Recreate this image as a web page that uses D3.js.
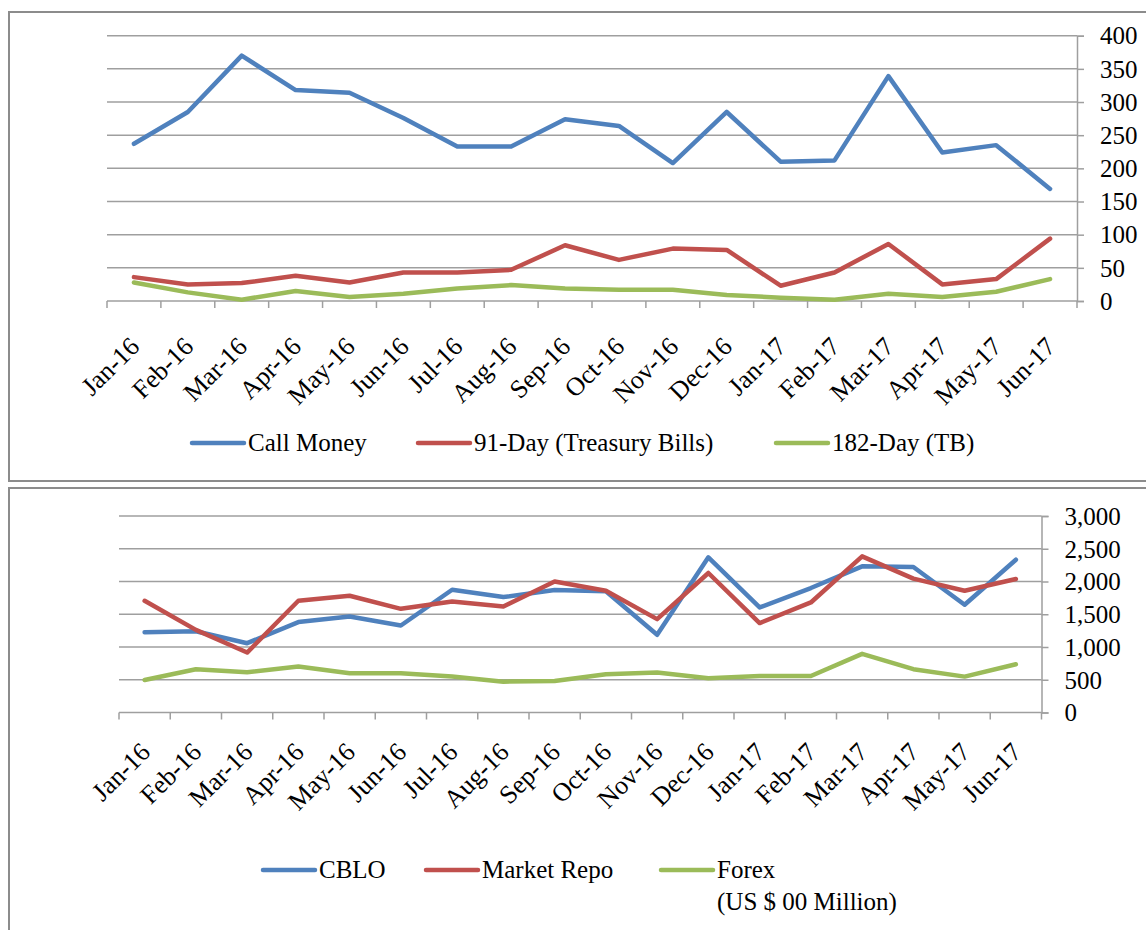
<!DOCTYPE html>
<html>
<head>
<meta charset="utf-8">
<script src="https://cdn.jsdelivr.net/npm/d3@7"></script>
<style>
  body { margin: 0; background: #fff; }
  svg text { font-family: "Liberation Serif", "Times New Roman", serif; fill: #000; }
</style>
</head>
<body>
<div id="vis"></div>
<script>
// months on the category axis
const MONTHS = ['Jan-16', 'Feb-16', 'Mar-16', 'Apr-16', 'May-16', 'Jun-16', 'Jul-16', 'Aug-16', 'Sep-16',
  'Oct-16', 'Nov-16', 'Dec-16', 'Jan-17', 'Feb-17', 'Mar-17', 'Apr-17', 'May-17', 'Jun-17'];

// top panel
const CALL_MONEY = [237, 285, 370, 318, 314, 276, 233, 233, 274, 264, 208, 285, 210, 212, 339, 224, 235, 169];
const TBILL_91 = [36, 25, 27, 38, 28, 43, 43, 47, 84, 62, 79, 77, 23, 43, 86, 25, 33, 94];
const TB_182 = [28, 13, 2, 15, 6, 11, 19, 24, 19, 17, 17, 9, 5, 2, 11, 6, 14, 33];
const TOP_TICKS = [0, 50, 100, 150, 200, 250, 300, 350, 400];

// bottom panel
const CBLO = [1227, 1240, 1058, 1380, 1466, 1328, 1874, 1762, 1870, 1850, 1186, 2369, 1604, 1900, 2231, 2221, 1645, 2333];
const MARKET_REPO = [1706, 1262, 915, 1706, 1782, 1583, 1695, 1619, 2001, 1860, 1426, 2130, 1365, 1680, 2384, 2043, 1859, 2038];
const FOREX = [497, 661, 615, 701, 600, 600, 548, 471, 482, 584, 609, 523, 558, 558, 895, 661, 548, 737];
const BOTTOM_TICKS = [0, 500, 1000, 1500, 2000, 2500, 3000];

const BLUE = '#4F81BD';
const RED = '#C0504D';
const GREEN = '#9BBB59';
const GRID = '#9f9f9f';
const FONT = 25;

const SVG = d3.select('#vis').append('svg').attr('width', 1146).attr('height', 930);

// panel frames
SVG.append('rect').attr('x', 9).attr('y', 12).attr('width', 1160).attr('height', 469)
  .attr('fill', 'none').attr('stroke', '#8c8c8c').attr('stroke-width', 2);
SVG.append('rect').attr('x', 9).attr('y', 488).attr('width', 1160).attr('height', 460)
  .attr('fill', 'none').attr('stroke', '#8c8c8c').attr('stroke-width', 2);

function drawPanel(cfg) {
  const g = SVG.append('g');
  const x = d3.scaleBand().domain(MONTHS).range([cfg.left, cfg.right]);
  const y = d3.scaleLinear().domain([0, cfg.max]).range([cfg.bottom, cfg.top]);

  // gridlines
  g.selectAll('.grid').data(cfg.ticks.slice(1)).join('line')
    .attr('x1', cfg.left).attr('x2', cfg.right)
    .attr('y1', (d) => y(d)).attr('y2', (d) => y(d))
    .attr('stroke', GRID).attr('stroke-width', 1.5);

  // right value axis
  const yAxis = g.append('g').attr('transform', `translate(${cfg.right},0)`)
    .call(d3.axisRight(y).tickValues(cfg.ticks).tickSize(7).tickPadding(16)
      .tickFormat(cfg.format));
  yAxis.attr('font-family', null);
  yAxis.select('.domain').attr('stroke', GRID).attr('stroke-width', 1.5);
  yAxis.selectAll('.tick line').attr('stroke', GRID).attr('stroke-width', 1.5);
  yAxis.selectAll('text').attr('font-size', FONT).attr('dy', '0.33em');

  // category axis line and boundary ticks
  g.append('line').attr('x1', cfg.left).attr('x2', cfg.right)
    .attr('y1', cfg.bottom).attr('y2', cfg.bottom)
    .attr('stroke', GRID).attr('stroke-width', 1.5);
  const bounds = MONTHS.map((m) => x(m)).concat([cfg.right]);
  g.selectAll('.xt').data(bounds).join('line')
    .attr('x1', (d) => d).attr('x2', (d) => d)
    .attr('y1', cfg.bottom).attr('y2', cfg.bottom + 7)
    .attr('stroke', GRID).attr('stroke-width', 1.5);

  // rotated month labels
  g.selectAll('.xl').data(MONTHS).join('text')
    .attr('transform', (d) => `translate(${x(d) + x.bandwidth() / 2 + cfg.lx},${cfg.bottom + cfg.ly}) rotate(-45)`)
    .attr('text-anchor', 'end')
    .attr('font-size', 26)
    .text((d) => d);

  // series lines
  const line = d3.line()
    .x((d, i) => x(MONTHS[i]) + x.bandwidth() / 2)
    .y((d) => y(d));
  cfg.series.forEach((s) => {
    g.append('path').datum(s.values)
      .attr('d', line)
      .attr('fill', 'none')
      .attr('stroke', s.color)
      .attr('stroke-width', 4.5)
      .attr('stroke-linejoin', 'round')
      .attr('stroke-linecap', 'round');
  });

  // legend
  cfg.series.forEach((s) => {
    g.append('line').attr('x1', s.lx).attr('x2', s.lx + 52)
      .attr('y1', cfg.legendY).attr('y2', cfg.legendY)
      .attr('stroke', s.color).attr('stroke-width', 4.5).attr('stroke-linecap', 'round');
    const t = g.append('text').attr('x', s.lx + 56).attr('y', cfg.legendY + 8)
      .attr('font-size', FONT);
    s.name.forEach((part, i) => {
      t.append('tspan').attr('x', s.lx + 56).attr('dy', i === 0 ? 0 : 32).text(part);
    });
  });
}

drawPanel({
  left: 107, right: 1077, top: 35.7, bottom: 301, max: 400,
  ticks: TOP_TICKS, format: d3.format('d'), lx: 7, ly: 47, legendY: 443,
  series: [
    { name: ['Call Money'], values: CALL_MONEY, color: BLUE, lx: 192 },
    { name: ['91-Day (Treasury Bills)'], values: TBILL_91, color: RED, lx: 418 },
    { name: ['182-Day (TB)'], values: TB_182, color: GREEN, lx: 776 },
  ],
});

drawPanel({
  left: 119, right: 1041.5, top: 516, bottom: 712.5, max: 3000,
  ticks: BOTTOM_TICKS, format: d3.format(','), lx: 7, ly: 41, legendY: 870,
  series: [
    { name: ['CBLO'], values: CBLO, color: BLUE, lx: 263 },
    { name: ['Market Repo'], values: MARKET_REPO, color: RED, lx: 426 },
    { name: ['Forex', '(US $ 00 Million)'], values: FOREX, color: GREEN, lx: 661 },
  ],
});
</script>
</body>
</html>
